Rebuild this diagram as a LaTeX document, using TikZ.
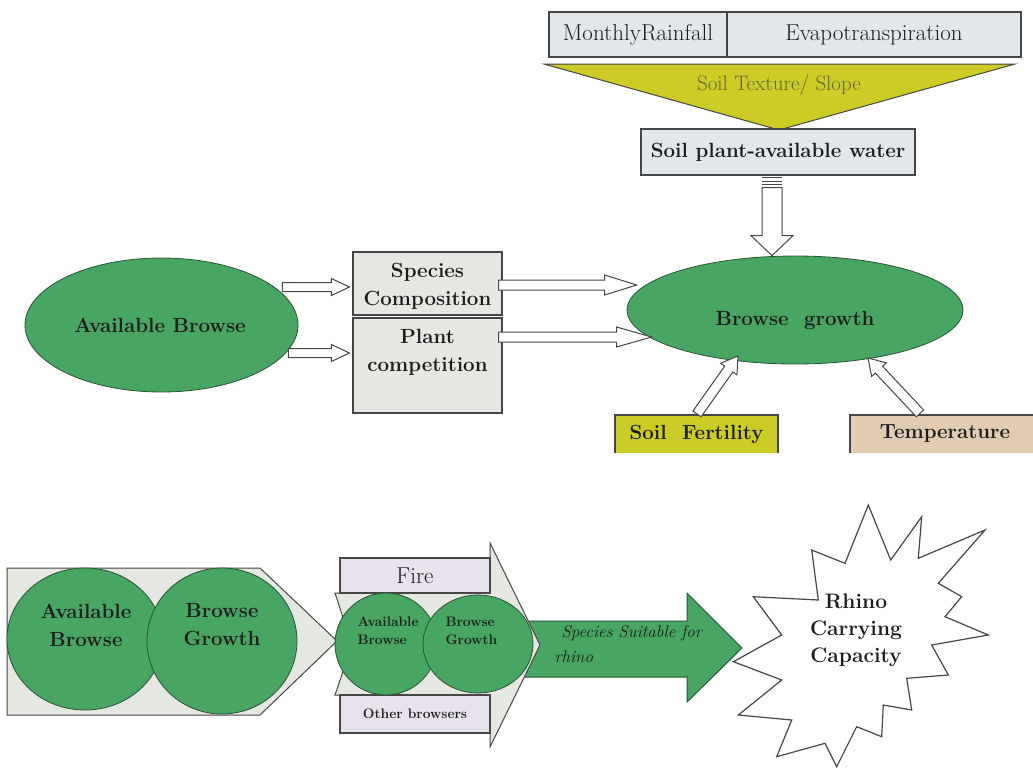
\documentclass[tikz,border=0pt]{standalone}
\usetikzlibrary{calc,shapes.geometric}
\definecolor{gfill}{RGB}{72,165,100}
\definecolor{gline}{RGB}{40,85,52}
\definecolor{boxgray}{RGB}{228,231,226}
\definecolor{boxblue}{RGB}{226,231,235}
\definecolor{yel}{RGB}{204,204,38}
\definecolor{tanbox}{RGB}{225,203,178}
\definecolor{lav}{RGB}{231,226,236}
\definecolor{shapegray}{RGB}{229,231,225}
\definecolor{edge}{RGB}{70,70,70}
\definecolor{txt}{RGB}{28,28,28}
\definecolor{olivetxt}{RGB}{105,100,55}
\newcommand\hollowarr[5]{%
  \path[hollow] let \p1=(#1), \p2=(#2), \n1={atan2(\y2-\y1,\x2-\x1)} in
   ($(\p1)+(\n1+90:#3)$) -- ($(\p2)+(\n1+180:#5)+(\n1+90:#3)$) -- ($(\p2)+(\n1+180:#5)+(\n1+90:#4)$) -- (\p2) -- ($(\p2)+(\n1+180:#5)+(\n1-90:#4)$) -- ($(\p2)+(\n1+180:#5)+(\n1-90:#3)$) -- ($(\p1)+(\n1-90:#3)$) -- cycle;}
\tikzset{
  box/.style={draw=edge, line width=1.2pt, inner sep=0pt},
  greenell/.style={ellipse, draw=gline, fill=gfill, line width=0.8pt, inner sep=0pt},
  bftext/.style={font=\fontsize{20.5}{28}\selectfont\bfseries, text=txt, align=center},
  rmtext/.style={font=\fontsize{23}{26}\selectfont, text=txt},
  smalltext/.style={font=\fontsize{13.8}{18}\selectfont\bfseries, text=txt, align=left},
  hollow/.style={draw=edge, fill=white, line width=1pt, line join=miter},
}
\begin{document}
\begin{tikzpicture}[x=1pt,y=-1pt]
\useasboundingbox (0,0) rectangle (1033,769);
% ---------- top part ----------
\node[box, fill=boxblue, minimum width=178pt, minimum height=45pt, rmtext] (rain) at (638,34.5) {MonthlyRainfall};
\node[box, fill=boxblue, minimum width=294pt, minimum height=45pt, rmtext] (evap) at (874,34.5) {Evapotranspiration};
\draw[draw=edge, fill=yel, line width=1pt] (544,64) -- (1015,64) -- (779,130) -- cycle;
\node[font=\fontsize{21}{24}\selectfont, text=olivetxt] (tex) at (779,85) {Soil Texture/ Slope};
\node[box, fill=boxblue, minimum width=274pt, minimum height=46pt, bftext] (spaw) at (778,152) {Soil plant-available water};

\node[greenell, minimum width=273pt, minimum height=134pt] (ab) at (161.5,325) {};
\node[bftext] at (160,325) {Available Browse};
\node[greenell, minimum width=336pt, minimum height=108pt] (bg) at (795,310) {};
\node[bftext] at (795,320) {Browse\ \ growth};

\node[box, fill=boxgray, minimum width=149pt, minimum height=63pt] (spec) at (427.5,283.5) {};
\node[bftext] at (427.5,286) {Species\\Composition};
\node[box, fill=boxgray, minimum width=149pt, minimum height=95pt] (plant) at (427.5,365.5) {};
\node[bftext] at (427.5,352) {Plant\\competition};

\coordinate (a1s) at ($(ab.east)+(-16,-38)$);
\coordinate (a1e) at ($(spec.west)+(-3,3.5)$);
\coordinate (a2s) at ($(ab.east)+(-10,28)$);
\coordinate (a2e) at ($(plant.west)+(-3,-12.5)$);
\coordinate (a3s) at ($(spec.east)+(-4,1.5)$);
\coordinate (a3e) at ($(bg.west)+(10,-25)$);
\coordinate (a4s) at ($(plant.east)+(-4,-28.5)$);
\coordinate (a4e) at ($(bg.west)+(25,27)$);
\coordinate (vs) at ($(spaw.south)+(-6,12)$);
\coordinate (ve) at ($(bg.north)+(-23,0)$);
\hollowarr{a1s}{a1e}{4.5pt}{8.5pt}{18pt}
\hollowarr{a2s}{a2e}{4.5pt}{8.5pt}{18pt}
\hollowarr{a3s}{a3e}{5pt}{10pt}{32pt}
\hollowarr{a4s}{a4e}{5pt}{10pt}{35pt}
\hollowarr{vs}{ve}{10pt}{21pt}{20pt}
\foreach \yy in {177,180.5,184} \draw[edge, line width=1.1pt] ($(spaw.south)+(-16,\yy-175)$) -- ++(20,0);

\begin{scope}
\clip (0,0) rectangle (1033,452);
\node[box, fill=yel, minimum width=163pt, minimum height=46pt] (sf) at (696.5,438) {};
\node[bftext] at (696.5,434) {Soil\ \ Fertility};
\node[box, fill=tanbox, minimum width=190pt, minimum height=46pt] (temp) at (945,438) {};
\node[bftext] at (945,434) {Temperature};
\end{scope}
\coordinate (sfs) at ($(sf.north)+(0.5,-0.5)$);
\coordinate (sfe) at (738,356);
\coordinate (tps) at ($(temp.north)+(-25,-1)$);
\coordinate (tpe) at (868,358);
\hollowarr{sfs}{sfe}{5pt}{10pt}{16pt}
\hollowarr{tps}{tpe}{5pt}{10pt}{16pt}

% ---------- bottom part ----------
\draw[draw=edge, fill=shapegray, line width=1pt] (7,568) -- (260,568) -- (337,641) -- (260,715) -- (7,715) -- cycle;
\node[greenell, minimum width=156pt, minimum height=142pt] (cab) at (85,639) {};
\node[greenell, minimum width=150pt, minimum height=146pt] (cbg) at (222,641) {};
\node[bftext] at (86,625) {Available\\Browse};
\node[bftext] at (222,625) {Browse\\Growth};

\draw[draw=gline, fill=gfill, line width=1pt] (520,621) -- (687,621) -- (687,593) -- (742,648) -- (687,702) -- (687,677) -- (520,677) -- cycle;
\node[font=\fontsize{17}{24}\selectfont\itshape, text=txt, anchor=west] (ss) at (558,633) {Species Suitable for};
\node[font=\fontsize{17}{24}\selectfont\itshape, text=txt, anchor=west] at (551,657) {rhino};

\draw[draw=edge, fill=shapegray, line width=1pt] (335,593) -- (490,593) -- (490,543) -- (540,645) -- (490,747) -- (490,695) -- (335,695) -- (352,645) -- cycle;
\node[box, fill=lav, minimum width=150pt, minimum height=35pt, rmtext] (fire) at (415,575.5) {Fire};
\node[box, fill=lav, minimum width=150pt, minimum height=38pt, smalltext] (oth) at (415,714) {Other browsers};
\node[greenell, minimum width=102pt, minimum height=102pt] (sab) at (386,644) {};
\node[greenell, minimum width=110pt, minimum height=98pt] (sbg) at (478,644) {};
\node[smalltext, anchor=north west] at (354,613) {Available\\Browse};
\node[smalltext, anchor=north west] at (442,613) {Browse\\Growth};

\draw[draw=edge, fill=white, line width=1.2pt, line join=miter]
 (868.3,505) -- (890.7,560) -- (921.7,516.7) -- (918.3,558.3) -- (985,530) -- (938.3,583.3)
 -- (961.7,596.7) -- (945,616.7) -- (988.3,635) -- (931.7,645) -- (948.3,675) -- (906.7,678.3)
 -- (911.7,710) -- (883.3,705) -- (881.7,736.7) -- (856.7,726.7) -- (836.7,766.7) -- (825,743.3)
 -- (776.7,756.7) -- (791.7,720) -- (738.3,715) -- (781.7,680) -- (733.3,661.7) -- (781.7,635)
 -- (753.3,596.7) -- (818.3,600) -- (811.7,550) -- (845,563.3) -- cycle;
\node[bftext, font=\fontsize{21}{27}\selectfont\bfseries] (rhino) at (856,630) {Rhino\\Carrying\\Capacity};
\end{tikzpicture}
\end{document}
